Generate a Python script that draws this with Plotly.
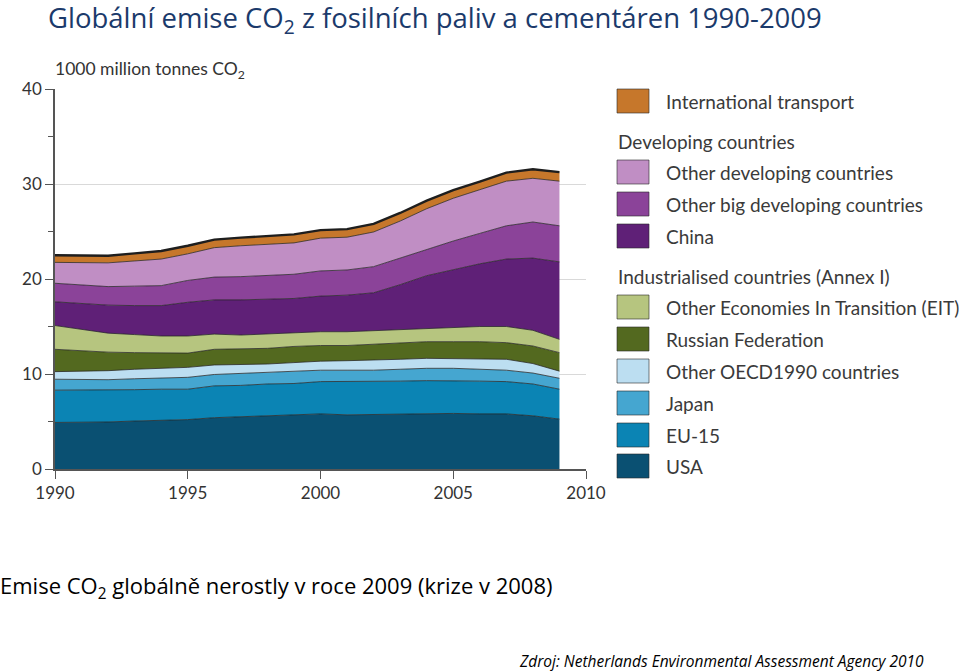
import plotly.graph_objects as go

# emissions, 1000 million tonnes CO2 per year
years = list(range(1990, 2010))

usa = [4.9, 4.9, 4.95, 5.05, 5.15, 5.2, 5.4, 5.5, 5.6, 5.65,
       5.8, 5.7, 5.75, 5.8, 5.85, 5.85, 5.8, 5.8, 5.6, 5.25]
eu15 = [3.4, 3.4, 3.35, 3.3, 3.25, 3.2, 3.35, 3.3, 3.35, 3.35,
        3.4, 3.5, 3.5, 3.45, 3.45, 3.45, 3.45, 3.4, 3.35, 3.15]
japan = [1.15, 1.1, 1.1, 1.15, 1.2, 1.25, 1.2, 1.25, 1.2, 1.25,
         1.2, 1.2, 1.15, 1.25, 1.3, 1.3, 1.25, 1.2, 1.15, 1.15]
other_oecd = [0.8, 0.9, 0.95, 1.0, 1.0, 1.05, 1.0, 0.95, 0.9, 0.95,
              0.95, 1.0, 1.05, 1.05, 1.05, 1.0, 1.1, 1.15, 1.0, 0.75]
russia = [2.35, 2.15, 1.95, 1.75, 1.6, 1.5, 1.65, 1.65, 1.65, 1.7,
          1.65, 1.6, 1.7, 1.75, 1.75, 1.8, 1.8, 1.75, 1.85, 1.95]
other_eit = [2.5, 2.25, 2.0, 1.9, 1.8, 1.8, 1.6, 1.45, 1.5, 1.4,
             1.45, 1.45, 1.4, 1.4, 1.4, 1.5, 1.6, 1.7, 1.65, 1.4]
china = [2.5, 2.7, 2.95, 3.05, 3.2, 3.55, 3.6, 3.7, 3.65, 3.65,
         3.75, 3.85, 4.0, 4.7, 5.55, 6.1, 6.6, 7.1, 7.6, 8.15]
other_big_dev = [1.95, 2.0, 1.95, 2.05, 2.1, 2.3, 2.4, 2.45, 2.55, 2.55,
                 2.65, 2.65, 2.75, 2.8, 2.75, 3.0, 3.2, 3.5, 3.8, 3.8]
other_dev = [2.2, 2.3, 2.5, 2.65, 2.8, 2.8, 3.1, 3.25, 3.25, 3.3,
             3.45, 3.45, 3.65, 3.9, 4.3, 4.5, 4.6, 4.7, 4.6, 4.7]
intl_transport = [0.75, 0.8, 0.75, 0.8, 0.85, 0.85, 0.85, 0.85, 0.85, 0.9,
                  0.85, 0.85, 0.85, 0.85, 0.85, 0.85, 0.85, 0.9, 0.95, 0.95]

# bottom -> top
series = [
    ("USA", usa, "#0a5072"),
    ("EU-15", eu15, "#0b84b4"),
    ("Japan", japan, "#45a6d0"),
    ("Other OECD1990 countries", other_oecd, "#bcdef1"),
    ("Russian Federation", russia, "#53691f"),
    ("Other Economies In Transition (EIT)", other_eit, "#b6c57f"),
    ("China", china, "#5f2077"),
    ("Other big developing countries", other_big_dev, "#8b4399"),
    ("Other developing countries", other_dev, "#c08ec4"),
    ("International transport", intl_transport, "#c6772b"),
]

AX_FONT = "Lato, 'Open Sans', sans-serif"
TXT_FONT = "'Open Sans', 'Noto Sans', sans-serif"

# plot area in page pixels
L, R, T, B = 55, 586, 89, 469


def px(x):
    return (x - L) / (R - L)


def py(y):
    return (B - y) / (B - T)


fig = go.Figure()
for i, (name, values, color) in enumerate(series):
    top = i == len(series) - 1
    fig.add_trace(
        go.Scatter(
            x=years,
            y=values,
            name=name,
            mode="lines",
            stackgroup="one",
            fillcolor=color,
            line=dict(color="#1e1e1e" if top else "rgba(35,35,35,0.85)",
                      width=2.4 if top else 0.9),
            showlegend=False,
        )
    )

# custom legend, laid out like the original
legend_rows = [
    ("item", 9, 101),
    ("head", "Developing countries", 141),
    ("item", 8, 172),
    ("item", 7, 204),
    ("item", 6, 236),
    ("head", "Industrialised countries (Annex I)", 276),
    ("item", 5, 307),
    ("item", 4, 339),
    ("item", 3, 371),
    ("item", 2, 403),
    ("item", 1, 435),
    ("item", 0, 466),
]
shapes = []
annotations = []
for kind, ref, y in legend_rows:
    if kind == "head":
        annotations.append(dict(
            x=px(616), y=py(y), xref="paper", yref="paper", text=ref,
            showarrow=False, xanchor="left", yanchor="middle",
            font=dict(family=AX_FONT, size=19, color="#3a3a3a"),
        ))
        continue
    name, _, color = series[ref]
    shapes.append(dict(
        type="rect", xref="paper", yref="paper",
        x0=px(617), x1=px(649), y0=py(y + 12), y1=py(y - 12),
        fillcolor=color, line=dict(color="rgba(40,40,40,0.6)", width=1),
    ))
    annotations.append(dict(
        x=px(664), y=py(y), xref="paper", yref="paper", text=name,
        showarrow=False, xanchor="left", yanchor="middle",
        font=dict(family=AX_FONT, size=19, color="#3a3a3a"),
    ))

annotations += [
    dict(x=px(53), y=py(70), xref="paper", yref="paper",
         text="1000 million tonnes CO<sub>2</sub>", showarrow=False,
         xanchor="left", yanchor="middle",
         font=dict(family=AX_FONT, size=17.5, color="#333333")),
    dict(x=px(46), y=py(19), xref="paper", yref="paper",
         text="Globální emise CO<sub>2</sub> z fosilních paliv a cementáren 1990-2009",
         showarrow=False, xanchor="left", yanchor="middle",
         font=dict(family=TXT_FONT, size=27.5, color="#1b3a6b")),
    dict(x=px(-2), y=py(587), xref="paper", yref="paper",
         text="Emise CO<sub>2</sub> globálně nerostly v roce 2009 (krize v 2008)",
         showarrow=False, xanchor="left", yanchor="middle",
         font=dict(family=TXT_FONT, size=22, color="#000000")),
    dict(x=px(926), y=py(661), xref="paper", yref="paper",
         text="<i>Zdroj: Netherlands Environmental Assessment Agency 2010</i>",
         showarrow=False, xanchor="right", yanchor="middle",
         font=dict(family=TXT_FONT, size=15.5, color="#000000")),
]

fig.update_layout(
    width=959,
    height=672,
    margin=dict(l=L, r=959 - R, t=T, b=672 - B),
    paper_bgcolor="white",
    plot_bgcolor="white",
    shapes=shapes,
    annotations=annotations,
    showlegend=False,
)
fig.update_xaxes(
    range=[1990, 2010],
    tickvals=[1990, 1995, 2000, 2005, 2010],
    ticks="outside",
    ticklen=8,
    tickcolor="#555555",
    showline=True,
    linecolor="#555555",
    linewidth=1.5,
    showgrid=False,
    zeroline=False,
    tickfont=dict(family=AX_FONT, size=17, color="#333333"),
)
fig.update_yaxes(
    range=[0, 40],
    dtick=10,
    ticks="outside",
    ticklen=8,
    tickcolor="#555555",
    minor=dict(dtick=5, ticks="outside", ticklen=5, tickcolor="#555555", showgrid=False),
    showline=True,
    linecolor="#555555",
    linewidth=1.5,
    showgrid=True,
    gridcolor="#d9d9d9",
    zeroline=False,
    tickfont=dict(family=AX_FONT, size=17, color="#333333"),
)

fig.write_html(
    "out.html",
    config={"displayModeBar": False},
    post_script="document.body.style.margin = '0';",
)
